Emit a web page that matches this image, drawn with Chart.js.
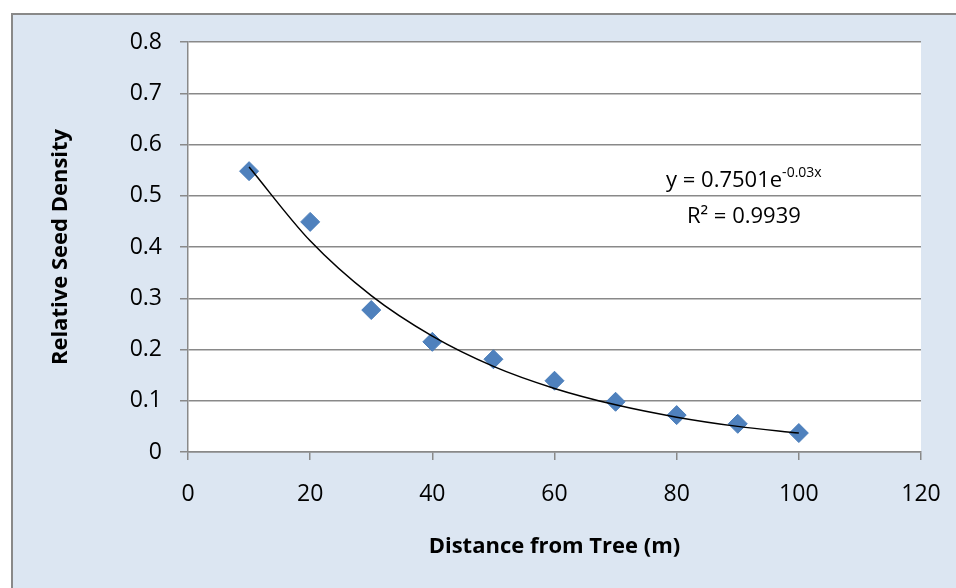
<!DOCTYPE html>
<html>
<head>
<meta charset="utf-8">
<script src="https://cdn.jsdelivr.net/npm/chart.js@4.4.1/dist/chart.umd.min.js"></script>
<style>
  html, body { margin: 0; padding: 0; background: #ffffff; overflow: hidden; }
  #frame {
    position: absolute; left: 11px; top: 13px; width: 960px; height: 600px;
    background: #dce6f2; border: 2px solid #898989; box-sizing: border-box;
  }
  #wrap { position: absolute; left: 0; top: 0; width: 956px; height: 588px; }
</style>
</head>
<body>
<div id="frame"></div>
<div id="wrap"><canvas id="seedChart"></canvas></div>
<script>
// measured seed density at each distance
const distances = [10, 20, 30, 40, 50, 60, 70, 80, 90, 100];
const seedDensity = [0.548, 0.449, 0.277, 0.215, 0.181, 0.139, 0.098, 0.072, 0.055, 0.037];
// exponential trendline at the same distances
const trendValues = [0.556, 0.412, 0.305, 0.226, 0.167, 0.124, 0.092, 0.068, 0.050, 0.037];
const xTicks = [0, 20, 40, 60, 80, 100, 120];
const yTicks = [0, 0.1, 0.2, 0.3, 0.4, 0.5, 0.6, 0.7, 0.8];
const equationText = 'y = 0.7501e';
const equationExp = '-0.03x';
const r2Text = 'R² = 0.9939';

const FONT = "'Open Sans', 'DejaVu Sans', sans-serif";

// white plot area on top of the blue chart background
const plotBg = {
    id: 'plotBg',
    beforeDraw(chart) {
        const a = chart.chartArea, c = chart.ctx;
        c.save();
        c.fillStyle = '#ffffff';
        c.fillRect(a.left, a.top, a.right - a.left, a.bottom - a.top);
        c.restore();
    }
};

// trendline equation label, anchored in data space
const eqLabel = {
    id: 'eqLabel',
    afterDatasetsDraw(chart) {
        const c = chart.ctx;
        const xs = chart.scales.x, ys = chart.scales.y;
        const cx = xs.getPixelForValue(91);
        const y1 = ys.getPixelForValue(0.518);
        const y2 = ys.getPixelForValue(0.447);
        c.save();
        c.fillStyle = '#000';
        c.textBaseline = 'alphabetic';
        c.font = '22px ' + FONT;
        const w1 = c.measureText(equationText).width;
        c.font = '14px ' + FONT;
        const w2 = c.measureText(equationExp).width;
        const start = cx - (w1 + w2) / 2;
        c.font = '22px ' + FONT;
        c.textAlign = 'left';
        c.fillText(equationText, start, y1);
        c.font = '14px ' + FONT;
        c.fillText(equationExp, start + w1, y1 - 10);
        c.font = '22px ' + FONT;
        c.textAlign = 'center';
        c.fillText(r2Text, cx, y2);
        c.restore();
    }
};

new Chart(document.getElementById('seedChart').getContext('2d'), {
    type: 'scatter',
    data: {
        datasets: [{
            label: 'Seed density',
            data: distances.map((d, i) => ({ x: d, y: seedDensity[i] })),
            pointStyle: 'rectRot',
            pointRadius: 9.5,
            pointHoverRadius: 9.5,
            backgroundColor: '#4f81bd',
            borderColor: '#4a7ebb',
            borderWidth: 1,
            order: 2
        }, {
            label: 'Trend',
            type: 'line',
            data: distances.map((d, i) => ({ x: d, y: trendValues[i] })),
            borderColor: '#000000',
            borderWidth: 1.5,
            pointRadius: 0,
            fill: false,
            cubicInterpolationMode: 'monotone',
            order: 1
        }]
    },
    options: {
        responsive: true,
        maintainAspectRatio: false,
        animation: false,
        layout: { padding: { left: 0, top: 42, right: 35, bottom: 0 } },
        plugins: {
            legend: { display: false },
            tooltip: { enabled: false }
        },
        scales: {
            x: {
                type: 'linear',
                min: 0, max: 120,
                afterBuildTicks: s => { s.ticks = xTicks.map(v => ({ value: v })); },
                afterFit: s => { s.height = 136; s.paddingLeft = 0; s.paddingRight = 0; },
                grid: { drawOnChartArea: false, color: '#898989', lineWidth: 1.5, tickLength: 8 },
                border: { color: '#898989', width: 1.5 },
                ticks: { color: '#000', padding: 21, font: { family: FONT, size: 23 } },
                title: {
                    display: true, text: 'Distance from Tree (m)', color: '#000',
                    font: { family: FONT, size: 22, weight: 'bold' },
                    padding: { top: 4, bottom: 28 }
                }
            },
            y: {
                min: 0, max: 0.8,
                afterBuildTicks: s => { s.ticks = yTicks.map(v => ({ value: v })); },
                afterFit: s => { s.width = 188; },
                grid: { color: '#898989', lineWidth: 1.5, tickLength: 8 },
                border: { color: '#898989', width: 1.5 },
                ticks: { color: '#000', padding: 18, font: { family: FONT, size: 23 },
                    callback: v => String(+v.toFixed(1)) },
                title: {
                    display: true, text: 'Relative Seed Density', color: '#000',
                    font: { family: FONT, size: 22, weight: 'bold' },
                    padding: { top: 48, bottom: 0 }
                }
            }
        }
    },
    plugins: [plotBg, eqLabel]
});
</script>
</body>
</html>
